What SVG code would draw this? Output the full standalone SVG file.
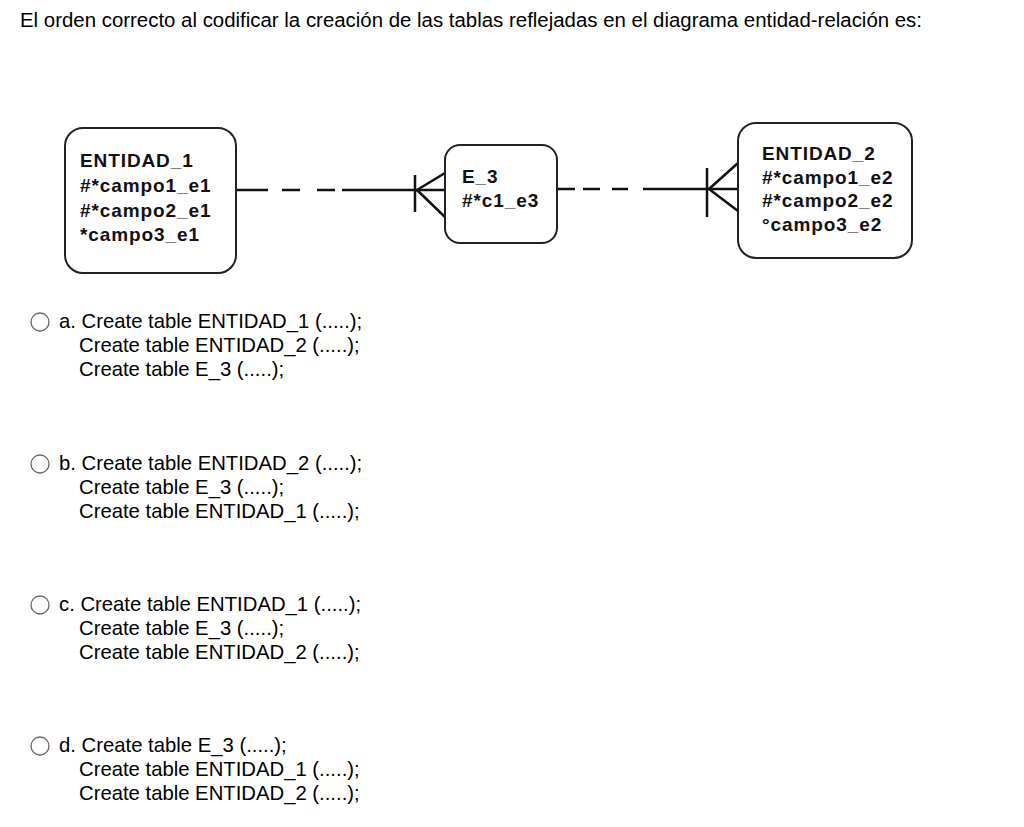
<svg xmlns="http://www.w3.org/2000/svg" width="1024" height="827" viewBox="0 0 1024 827">
<style>
.q{font-family:"Liberation Sans",Arial,sans-serif;font-size:20.3px;fill:#000}
.t{font-family:"Liberation Sans",Arial,sans-serif;font-size:20px;fill:#000}
.e{font-family:"Liberation Sans",Arial,sans-serif;font-size:19px;font-weight:bold;fill:#111;letter-spacing:0.9px}
.box{fill:#fff;stroke:#222;stroke-width:2}
.ln{stroke:#111;stroke-width:2.5;fill:none}
.r{fill:#fff;stroke:#666;stroke-width:1.3}
</style>
<rect width="1024" height="827" fill="#fff"/>
<text class="t" x="20" y="27" textLength="902" lengthAdjust="spacingAndGlyphs">El orden correcto al codificar la creación de las tablas reflejadas en el diagrama entidad-relación es:</text>
<g id="connectors">
<path class="ln" d="M236 190H268M282 190H300M317 190H335M342 190H445"/>
<path class="ln" d="M415 175V212M417 190L445 173M417 190L445 217"/>
<path class="ln" d="M557 189H575M583 189H600M612 189H628M643 189H738"/>
<path class="ln" d="M707 168V217M709 189L738 163M709 189L738 211"/>
</g>
<g id="entidad1"><rect class="box" x="65" y="128" width="171" height="145" rx="18"/>
<text class="e" x="80" y="167">ENTIDAD_1</text><text class="e" x="80" y="192">#*campo1_e1</text><text class="e" x="80" y="217">#*campo2_e1</text><text class="e" x="80" y="241">*campo3_e1</text></g>
<g id="e3"><rect class="box" x="445" y="145" width="112" height="98" rx="15"/>
<text class="e" x="462" y="183">E_3</text><text class="e" x="462" y="207">#*c1_e3</text></g>
<g id="entidad2"><rect class="box" x="738" y="123" width="174" height="135" rx="18"/>
<text class="e" x="762" y="160">ENTIDAD_2</text><text class="e" x="762" y="184">#*campo1_e2</text><text class="e" x="762" y="207">#*campo2_e2</text><text class="e" x="762" y="231">°campo3_e2</text></g>
<g id="optA"><circle class="r" cx="40" cy="322" r="9"/><text class="q" x="59" y="328">a. Create table ENTIDAD_1 (.....);</text><text class="q" x="79" y="352">Create table ENTIDAD_2 (.....);</text><text class="q" x="79" y="376">Create table E_3 (.....);</text></g>
<g id="optB"><circle class="r" cx="40" cy="464" r="9"/><text class="q" x="59" y="470">b. Create table ENTIDAD_2 (.....);</text><text class="q" x="79" y="494">Create table E_3 (.....);</text><text class="q" x="79" y="518">Create table ENTIDAD_1 (.....);</text></g>
<g id="optC"><circle class="r" cx="40" cy="605" r="9"/><text class="q" x="59" y="611">c. Create table ENTIDAD_1 (.....);</text><text class="q" x="79" y="635">Create table E_3 (.....);</text><text class="q" x="79" y="659">Create table ENTIDAD_2 (.....);</text></g>
<g id="optD"><circle class="r" cx="40" cy="746" r="9"/><text class="q" x="59" y="752">d. Create table E_3 (.....);</text><text class="q" x="79" y="776">Create table ENTIDAD_1 (.....);</text><text class="q" x="79" y="800">Create table ENTIDAD_2 (.....);</text></g>
</svg>
